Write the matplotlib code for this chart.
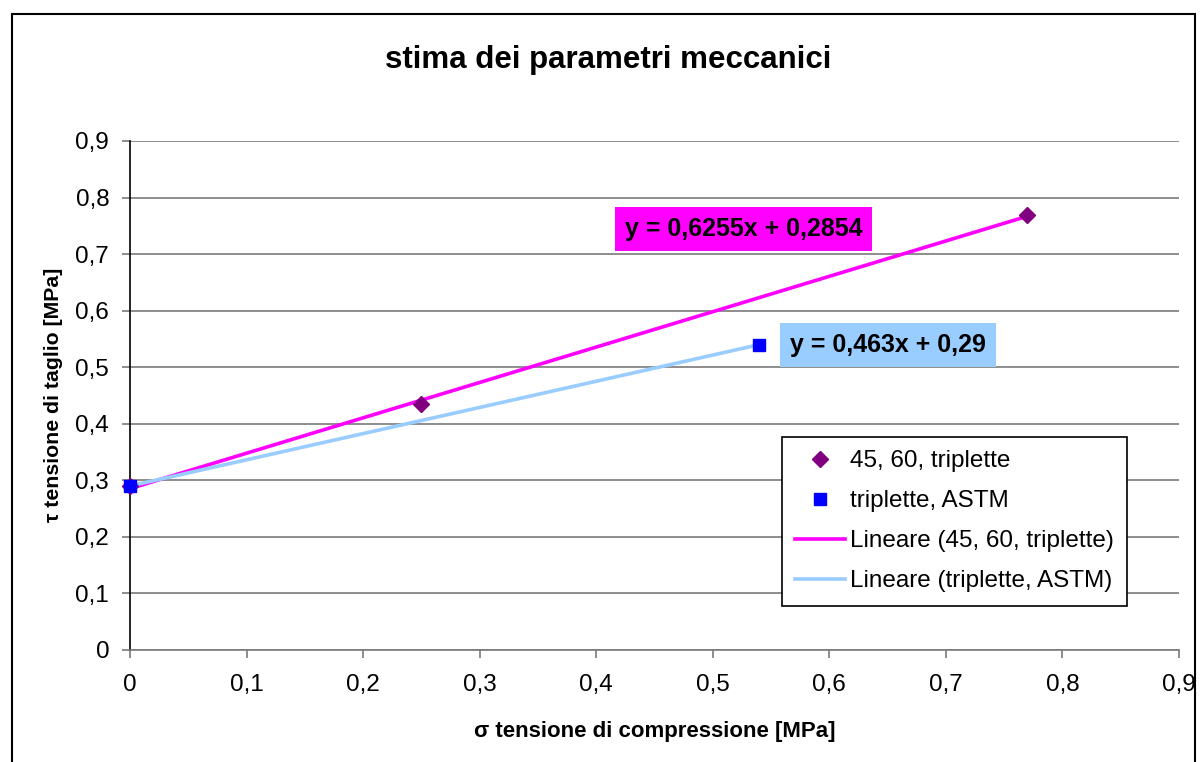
import matplotlib
matplotlib.use("Agg")
import matplotlib.pyplot as plt
from matplotlib.ticker import FuncFormatter, MultipleLocator
from matplotlib.patches import Rectangle
import numpy as np

plt.rcParams['font.family'] = ['Liberation Sans', 'DejaVu Sans']

# Series data
sigma_4560 = [0.0, 0.25, 0.77]
tau_4560 = [0.29, 0.435, 0.77]
sigma_astm = [0.0, 0.54]
tau_astm = [0.29, 0.54]

# Linear trendline coefficients (slope, intercept)
fit_4560 = (0.6255, 0.2854)
fit_astm = (0.463, 0.29)

labels = ["45, 60, triplette", "triplette, ASTM",
          "Lineare (45, 60, triplette)", "Lineare (triplette, ASTM)"]
eq_4560 = "y = 0,6255x + 0,2854"
eq_astm = "y = 0,463x + 0,29"

fig = plt.figure(figsize=(12, 7.62), dpi=100)
W, H = 1200, 762
ax = fig.add_axes([130 / W, 1 - 650 / H, (1179 - 130) / W, (650 - 141) / H])

# chart area border
fig.patches.append(Rectangle((12 / W, -0.02), (1195 - 12) / W, 1 - 14 / H + 0.02,
                             transform=fig.transFigure, fill=False,
                             edgecolor='black', linewidth=1.5, zorder=0))

grid_c = '#7a7a7a'
ax.set_xlim(0, 0.9)
ax.set_ylim(0, 0.9)
ax.xaxis.set_major_locator(MultipleLocator(0.1))
ax.yaxis.set_major_locator(MultipleLocator(0.1))
fmt = FuncFormatter(lambda v, p: ('%g' % round(v, 2)).replace('.', ','))
ax.xaxis.set_major_formatter(fmt)
ax.yaxis.set_major_formatter(fmt)
ax.yaxis.grid(True, color=grid_c, linewidth=1.2)
ax.set_axisbelow(True)
for s in ['top', 'right']:
    ax.spines[s].set_visible(False)
ax.spines['left'].set_color('black')
ax.spines['left'].set_linewidth(1.2)
ax.spines['bottom'].set_color(grid_c)
ax.spines['bottom'].set_linewidth(1.2)
ax.tick_params(axis='both', direction='out', length=6, width=1.2, color=grid_c,
               labelsize=17.5, labelcolor='black')
ax.tick_params(axis='x', pad=11)
ax.tick_params(axis='y', pad=9)

# trendlines
x1 = np.array([min(sigma_4560), max(sigma_4560)])
x2 = np.array([min(sigma_astm), max(sigma_astm)])
l1, = ax.plot(x1, fit_4560[0] * x1 + fit_4560[1], color='#FF00FF', lw=2.6, zorder=3)
l2, = ax.plot(x2, fit_astm[0] * x2 + fit_astm[1], color='#99CCFF', lw=2.6, zorder=3)

# data points
p1, = ax.plot(sigma_4560, tau_4560, linestyle='none', marker='D', markersize=8,
              color='#800080', zorder=4, clip_on=False)
p2, = ax.plot(sigma_astm, tau_astm, linestyle='none', marker='s', markersize=8.5,
              color='#0000FF', zorder=5, clip_on=False)

# equation labels
ax.text(0.5263, 0.7445, eq_4560, fontsize=18, fontweight='bold', ha='center',
        va='center', bbox=dict(boxstyle='square,pad=0.4', facecolor='#FF00FF',
                               edgecolor='none'), zorder=6)
ax.text(0.650, 0.540, eq_astm, fontsize=18, fontweight='bold', ha='center',
        va='center', bbox=dict(boxstyle='square,pad=0.4', facecolor='#99CCFF',
                               edgecolor='none'), zorder=6)

leg = ax.legend([p1, p2, l1, l2], labels, loc='upper left',
                bbox_to_anchor=(782 / W, 1 - 437 / H), bbox_transform=fig.transFigure,
                fontsize=17.5, frameon=True, fancybox=False, framealpha=1,
                edgecolor='black', borderpad=0.55, labelspacing=0.74,
                handlelength=2.05, handletextpad=0.2, borderaxespad=0)
leg.get_frame().set_linewidth(1.2)

fig.text(608 / W, 1 - 60 / H, "stima dei parametri meccanici", fontsize=22.5,
         fontweight='bold', ha='center', va='center')
fig.text(655 / W, 1 - 731 / H, "σ tensione di compressione [MPa]", fontsize=16,
         fontweight='bold', ha='center', va='center')
fig.text(54 / W, 1 - 395 / H, "τ tensione di taglio [MPa]", fontsize=15.3,
         fontweight='bold', ha='center', va='center', rotation=90)

fig.savefig("out.png", dpi=100, facecolor='white')
